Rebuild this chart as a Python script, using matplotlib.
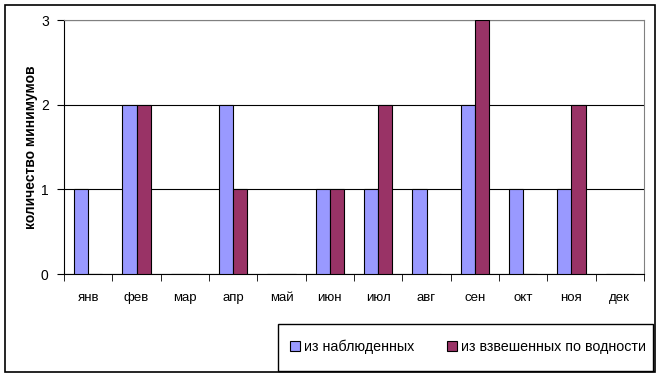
import matplotlib
matplotlib.use("Agg")
import matplotlib.pyplot as plt
import numpy as np
from matplotlib.patches import Rectangle

plt.rcParams['font.family'] = ['Liberation Sans', 'DejaVu Sans']

months = ["янв", "фев", "мар", "апр", "май", "июн", "июл", "авг", "сен", "окт", "ноя", "дек"]
observed = [1, 2, 0, 2, 0, 1, 1, 1, 2, 1, 1, 0]
weighted = [0, 2, 0, 1, 0, 1, 2, 0, 3, 0, 2, 0]
series_names = ["из наблюденных", "из взвешенных по водности"]

W, H = 661, 378
fig = plt.figure(figsize=(W / 100, H / 100), dpi=100)
fig.patch.set_facecolor("white")

# outer chart border
fig.patches.append(Rectangle((5 / W, 1 - 372 / H), 650 / W, 367 / H, transform=fig.transFigure,
                             fill=False, edgecolor="black", linewidth=1.2))
# legend border
fig.patches.append(Rectangle((278 / W, 1 - 371 / H), 375 / W, 47 / H, transform=fig.transFigure,
                             fill=False, edgecolor="black", linewidth=1.0))

ax = fig.add_axes([64 / W, 1 - 274 / H, 580 / W, 254 / H])
x = np.arange(len(months))
bw = 0.29
ax.bar(x - bw / 2, observed, bw, color="#9999FF", edgecolor="black", linewidth=0.8, zorder=3,
       label=series_names[0])
ax.bar(x + bw / 2, weighted, bw, color="#993366", edgecolor="black", linewidth=0.8, zorder=3,
       label=series_names[1])

ax.set_xlim(-0.5, len(months) - 0.5)
ax.set_ylim(0, 3)
ax.set_yticks([0, 1, 2, 3])
ax.yaxis.grid(True, color="black", linewidth=0.8, zorder=0)
ax.set_xticks(x)
ax.set_xticklabels(months, fontsize=9.5)
ax.tick_params(axis="x", length=0, pad=13)
ax.set_xticks(np.arange(-0.5, len(months)), minor=True)
ax.tick_params(axis="x", which="minor", length=5, direction="out", color="black")
ax.tick_params(axis="y", labelsize=10, length=5, direction="out", pad=6)

for side in ["top", "right"]:
    ax.spines[side].set_color("#808080")
ax.spines["left"].set_color("black")
ax.spines["bottom"].set_color("black")

ax.set_ylabel("количество минимумов", fontsize=10, fontweight="bold")
ax.yaxis.set_label_coords((38 - 64) / 580, 0.5)

leg = fig.legend(loc="center", bbox_to_anchor=(468 / W, 1 - 347 / H),
                 ncol=2, fontsize=10.3, frameon=False,
                 handlelength=0.7, handleheight=0.7, handletextpad=0.3, borderaxespad=0,
                 borderpad=0, columnspacing=2.3)

fig.savefig("out.png", dpi=100)
